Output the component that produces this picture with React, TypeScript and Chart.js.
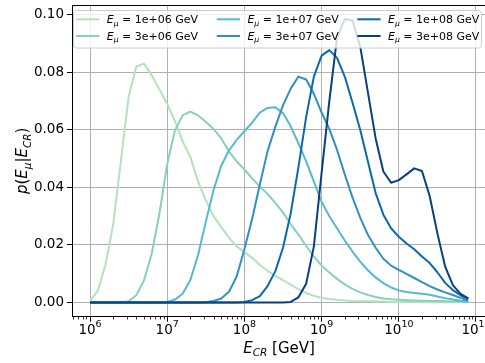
import React, { useEffect, useRef } from "react";
import { Chart, registerables } from "chart.js";

Chart.register(...registerables);

// log10 of cosmic-ray energy E_CR [GeV]
const logE = [
  6.0, 6.1, 6.2, 6.3, 6.4, 6.5, 6.6, 6.7, 6.8, 6.9,
  7.0, 7.1, 7.2, 7.3, 7.4, 7.5, 7.6, 7.7, 7.8, 7.9,
  8.0, 8.1, 8.2, 8.3, 8.4, 8.5, 8.6, 8.7, 8.8, 8.9,
  9.0, 9.1, 9.2, 9.3, 9.4, 9.5, 9.6, 9.7, 9.8, 9.9,
  10.0, 10.1, 10.2, 10.3, 10.4, 10.5, 10.6, 10.7, 10.8, 10.9,
];

const muEnergyLabels = ["1e+06", "3e+06", "1e+07", "3e+07", "1e+08", "3e+08"];

const p1e6 = [
  0.0005, 0.004, 0.013, 0.027, 0.049, 0.0715, 0.082, 0.083, 0.0789, 0.074,
  0.069, 0.063, 0.056, 0.0505, 0.042, 0.0355, 0.03, 0.0262, 0.0225, 0.0195,
  0.0175, 0.0155, 0.013, 0.011, 0.0092, 0.0078, 0.0062, 0.0046, 0.0033, 0.0023,
  0.0016, 0.0012, 0.0009, 0.0007, 0.0005, 0.0004, 0.0004, 0.0003, 0.0003, 0.0002,
  0.0002, 0.0002, 0.0002, 0.0001, 0.0001, 0.0001, 0.0001, 0.0001, 0.0001, 0.0001,
];
const p3e6 = [
  0, 0, 0, 0, 0.0001, 0.0004, 0.0025, 0.0077, 0.017, 0.031,
  0.048, 0.0598, 0.065, 0.0663, 0.065, 0.0628, 0.0603, 0.057, 0.0525, 0.049,
  0.0462, 0.0431, 0.0403, 0.0377, 0.0346, 0.0313, 0.0272, 0.0236, 0.0196, 0.016,
  0.0128, 0.0104, 0.0082, 0.0063, 0.0047, 0.0035, 0.0026, 0.0019, 0.0014, 0.0011,
  0.0009, 0.0008, 0.0007, 0.0006, 0.0005, 0.0005, 0.0004, 0.0003, 0.0003, 0.0002,
];
const p1e7 = [
  0, 0, 0, 0, 0, 0, 0, 0, 0, 0,
  0.0002, 0.001, 0.003, 0.0078, 0.0165, 0.028, 0.039, 0.0475, 0.0528, 0.0565,
  0.0595, 0.0625, 0.066, 0.0676, 0.0678, 0.0658, 0.0612, 0.0553, 0.049, 0.042,
  0.035, 0.03, 0.0258, 0.0215, 0.0177, 0.0142, 0.0112, 0.0087, 0.0067, 0.0052,
  0.0042, 0.0036, 0.0033, 0.003, 0.0027, 0.0021, 0.0015, 0.001, 0.0006, 0.0003,
];
const p3e7 = [
  0, 0, 0, 0, 0, 0, 0, 0, 0, 0,
  0, 0, 0, 0, 0, 0.0001, 0.0005, 0.0014, 0.0037, 0.009,
  0.0185, 0.029, 0.041, 0.0525, 0.061, 0.0685, 0.0743, 0.0785, 0.0775, 0.0725,
  0.066, 0.0603, 0.053, 0.0445, 0.0365, 0.0295, 0.0235, 0.019, 0.0152, 0.0128,
  0.0113, 0.0099, 0.0085, 0.0071, 0.0057, 0.0045, 0.0035, 0.0026, 0.0016, 0.0006,
];
const p1e8 = [
  0, 0, 0, 0, 0, 0, 0, 0, 0, 0,
  0, 0, 0, 0, 0, 0, 0, 0, 0, 0,
  0.0002, 0.0008, 0.0022, 0.0057, 0.0108, 0.019, 0.031, 0.047, 0.0645, 0.0785,
  0.0858, 0.0877, 0.085, 0.0785, 0.0695, 0.06, 0.049, 0.038, 0.0305, 0.0258,
  0.0228, 0.0205, 0.0185, 0.016, 0.0137, 0.0105, 0.0068, 0.0043, 0.0025, 0.0012,
];
const p3e8 = [
  0, 0, 0, 0, 0, 0, 0, 0, 0, 0,
  0, 0, 0, 0, 0, 0, 0, 0, 0, 0,
  0, 0, 0, 0, 0, 0, 0.0002, 0.0018, 0.0065, 0.0195,
  0.045, 0.07, 0.092, 0.0985, 0.098, 0.089, 0.073, 0.057, 0.0455, 0.0416,
  0.0425, 0.0445, 0.0466, 0.0457, 0.037, 0.024, 0.0125, 0.006, 0.003, 0.0014,
];

const seriesValues = [p1e6, p3e6, p1e7, p3e7, p1e8, p3e8];
const seriesColors = ["#b4e2ba", "#87d0c0", "#57b8d0", "#3091c1", "#0a6aad", "#084081"];

const yTicks = [0, 0.02, 0.04, 0.06, 0.08, 0.1];
const xTickExponents = [6, 7, 8, 9, 10, 11];

const FF = '"DejaVu Sans"';
const rm = (s: number) => `${s}px ${FF}`;
const it = (s: number) => `italic ${s}px ${FF}`;

type Run = { text: string; font: string; dy: number };

function runsWidth(ctx: CanvasRenderingContext2D, runs: Run[]) {
  let w = 0;
  for (const r of runs) {
    ctx.font = r.font;
    w += ctx.measureText(r.text).width;
  }
  return w;
}
function drawRuns(ctx: CanvasRenderingContext2D, runs: Run[], x: number, y: number) {
  let cx = x;
  for (const r of runs) {
    ctx.font = r.font;
    ctx.fillText(r.text, cx, y + r.dy);
    cx += ctx.measureText(r.text).width;
  }
}

export default function App() {
  const ref = useRef<HTMLCanvasElement>(null);

  useEffect(() => {
    document.body.style.margin = "0";
    document.body.style.overflow = "hidden";
    const canvas = ref.current!;

    const datasets = seriesValues.map((vals, i) => ({
      label: `E_μ = ${muEnergyLabels[i]} GeV`,
      data: vals.map((v, j) => ({ x: Math.pow(10, logE[j]), y: v })),
      borderColor: seriesColors[i],
      backgroundColor: seriesColors[i],
      borderWidth: 2,
      borderJoinStyle: "round" as const,
      pointRadius: 0,
      tension: 0,
      fill: false,
      order: seriesValues.length - 1 - i,
    }));

    const overlay = {
      id: "overlay",
      afterDraw(chart: any) {
        const ctx: CanvasRenderingContext2D = chart.ctx;
        const area = chart.chartArea;
        const xs = chart.scales.x;
        ctx.save();
        // top spine
        ctx.strokeStyle = "#000";
        ctx.lineWidth = 1;
        ctx.beginPath();
        ctx.moveTo(area.left, area.top + 0.5);
        ctx.lineTo(area.right, area.top + 0.5);
        ctx.stroke();

        // minor x ticks
        ctx.lineWidth = 0.8;
        for (let e = 5; e <= 11; e++) {
          for (let k = 2; k <= 9; k++) {
            const v = k * Math.pow(10, e);
            if (v < xs.min || v > xs.max) continue;
            const px = Math.round(xs.getPixelForValue(v)) + 0.5;
            ctx.beginPath();
            ctx.moveTo(px, area.bottom);
            ctx.lineTo(px, area.bottom + 2.8);
            ctx.stroke();
          }
        }

        // x tick labels 10^n
        ctx.fillStyle = "#000";
        ctx.textAlign = "left";
        ctx.textBaseline = "alphabetic";
        for (const e of xTickExponents) {
          const px = xs.getPixelForValue(Math.pow(10, e));
          const runs: Run[] = [
            { text: "10", font: rm(13.5), dy: 0 },
            { text: String(e), font: rm(9.45), dy: -6.5 },
          ];
          const w = runsWidth(ctx, runs);
          drawRuns(ctx, runs, px - w / 2, 333.5);
        }

        // x axis title
        const xt: Run[] = [
          { text: "E", font: it(15), dy: 0 },
          { text: "CR", font: it(10.5), dy: 3.3 },
          { text: " [GeV]", font: rm(15), dy: 0 },
        ];
        const xw = runsWidth(ctx, xt);
        drawRuns(ctx, xt, 279 - xw / 2, 352.5);

        // y axis title
        const yt: Run[] = [
          { text: "p", font: it(15), dy: 0 },
          { text: "(", font: rm(15), dy: 0 },
          { text: "E", font: it(15), dy: 0 },
          { text: "μ", font: it(10.5), dy: 3.3 },
          { text: "|", font: rm(15), dy: 0 },
          { text: "E", font: it(15), dy: 0 },
          { text: "CR", font: it(10.5), dy: 3.3 },
          { text: ")", font: rm(15), dy: 0 },
        ];
        const yw = runsWidth(ctx, yt);
        ctx.save();
        ctx.translate(27.4, (area.top + area.bottom) / 2);
        ctx.rotate(-Math.PI / 2);
        drawRuns(ctx, yt, -yw / 2, 0);
        ctx.restore();

        // legend
        const bx = 73.5, by = 10.5, bw = 408, bh = 37.5;
        ctx.beginPath();
        (ctx as any).roundRect(bx, by, bw, bh, 3);
        ctx.fillStyle = "rgba(255,255,255,0.8)";
        ctx.fill();
        ctx.strokeStyle = "#cccccc";
        ctx.lineWidth = 1;
        ctx.stroke();

        const colX = [76, 216.7, 357.3];
        const rowY = [19.3, 36];
        muEnergyLabels.forEach((lab, i) => {
          const col = Math.floor(i / 2);
          const row = i % 2;
          const x0 = colX[col];
          const y0 = rowY[row];
          ctx.strokeStyle = seriesColors[i];
          ctx.lineWidth = 2;
          ctx.beginPath();
          ctx.moveTo(x0, y0);
          ctx.lineTo(x0 + 23.3, y0);
          ctx.stroke();
          ctx.fillStyle = "#000";
          drawRuns(
            ctx,
            [
              { text: "E", font: it(11), dy: 0 },
              { text: "μ", font: it(7.7), dy: 2.3 },
              { text: ` = ${lab} GeV`, font: rm(11), dy: 0 },
            ],
            x0 + 30.7,
            y0 + 4
          );
        });
        ctx.restore();
      },
    };

    const chart = new Chart(canvas, {
      type: "line",
      data: { datasets },
      options: {
        animation: false,
        responsive: false,
        devicePixelRatio: 1,
        layout: { padding: { top: 5, left: 0, right: 0, bottom: 0 } },
        plugins: { legend: { display: false }, tooltip: { enabled: false } },
        scales: {
          x: {
            type: "logarithmic",
            min: Math.pow(10, 5.7668),
            max: Math.pow(10, 11.1166),
            afterBuildTicks: (s: any) => {
              s.ticks = xTickExponents.map((e) => ({ value: Math.pow(10, e), major: true }));
            },
            afterFit: (s: any) => {
              s.height = 46.3;
              s.paddingLeft = 0;
              s.paddingRight = 0;
            },
            ticks: { display: false },
            grid: {
              color: "#b0b0b0",
              lineWidth: 1,
              drawTicks: true,
              tickLength: 5,
              tickColor: "#000",
              tickWidth: 1,
            },
            border: { display: true, color: "#000", width: 1 },
          },
          y: {
            type: "linear",
            min: -0.00495,
            max: 0.10337,
            afterBuildTicks: (s: any) => {
              s.ticks = yTicks.map((v) => ({ value: v }));
            },
            afterFit: (s: any) => {
              s.width = 72;
              s.paddingTop = 0;
              s.paddingBottom = 0;
            },
            ticks: {
              callback: (v: any) => Number(v).toFixed(2),
              font: { family: "DejaVu Sans", size: 13.5 },
              color: "#000",
              padding: 3,
            },
            grid: {
              color: "#b0b0b0",
              lineWidth: 1,
              drawTicks: true,
              tickLength: 5,
              tickColor: "#000",
              tickWidth: 1,
            },
            border: { display: true, color: "#000", width: 1 },
          },
        },
      } as any,
      plugins: [overlay],
    });
    return () => chart.destroy();
  }, []);

  return (
    <div style={{ width: 485, height: 363, overflow: "hidden" }}>
      <canvas ref={ref} width={485} height={363} style={{ display: "block" }} />
    </div>
  );
}
